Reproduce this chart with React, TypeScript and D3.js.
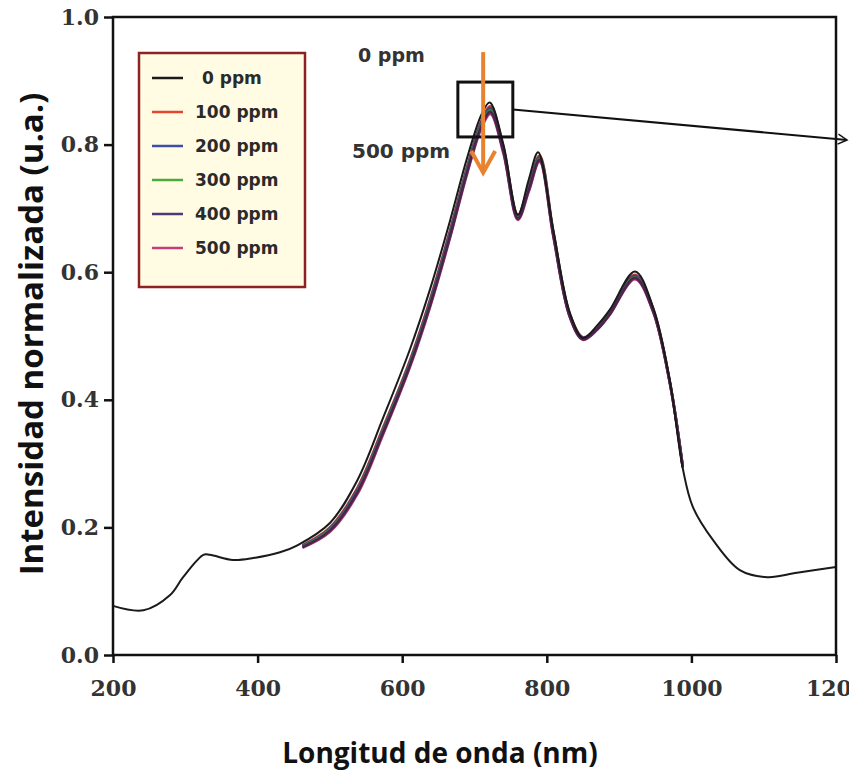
import React, { useRef, useEffect } from 'react';
import * as d3 from 'd3';

// 0 ppm spectrum, full range
const wlFull = [200, 242, 279, 297, 325, 334, 366, 394, 431, 455, 500, 538, 573, 611, 639, 666, 690, 710, 721, 740, 760, 775, 788, 809, 832, 850, 870, 887, 922, 947, 970, 988, 1002, 1030, 1067, 1105, 1146, 1200];
const ppm0 = [0.077, 0.070, 0.094, 0.122, 0.157, 0.157, 0.149, 0.152, 0.161, 0.172, 0.207, 0.274, 0.370, 0.480, 0.575, 0.680, 0.780, 0.848, 0.866, 0.800, 0.690, 0.745, 0.788, 0.666, 0.536, 0.497, 0.517, 0.541, 0.601, 0.545, 0.431, 0.293, 0.232, 0.180, 0.133, 0.122, 0.129, 0.138];

// doped samples, measured range only
const wlDoped = [462, 500, 538, 573, 611, 639, 666, 690, 710, 722, 740, 760, 775, 790, 809, 832, 850, 870, 887, 922, 947, 970, 988];
const ppm100 = [0.172, 0.200, 0.262, 0.355, 0.463, 0.559, 0.665, 0.766, 0.838, 0.860, 0.796, 0.690, 0.736, 0.783, 0.664, 0.534, 0.498, 0.514, 0.538, 0.596, 0.543, 0.430, 0.296];
const ppm200 = [0.171, 0.198, 0.259, 0.352, 0.460, 0.556, 0.662, 0.764, 0.836, 0.857, 0.793, 0.688, 0.733, 0.780, 0.662, 0.532, 0.497, 0.513, 0.536, 0.594, 0.541, 0.429, 0.296];
const ppm300 = [0.170, 0.197, 0.257, 0.350, 0.458, 0.553, 0.659, 0.761, 0.833, 0.854, 0.791, 0.686, 0.731, 0.778, 0.660, 0.531, 0.496, 0.512, 0.535, 0.592, 0.540, 0.428, 0.295];
const ppm400 = [0.169, 0.195, 0.255, 0.347, 0.455, 0.550, 0.656, 0.758, 0.830, 0.851, 0.789, 0.684, 0.729, 0.776, 0.658, 0.530, 0.495, 0.511, 0.534, 0.591, 0.539, 0.428, 0.294];
const ppm500 = [0.168, 0.193, 0.252, 0.344, 0.452, 0.547, 0.653, 0.755, 0.827, 0.848, 0.786, 0.682, 0.726, 0.773, 0.656, 0.529, 0.494, 0.510, 0.533, 0.589, 0.538, 0.427, 0.294];

const seriesNames = ['0 ppm', '100 ppm', '200 ppm', '300 ppm', '400 ppm', '500 ppm'];
const seriesColors = ['#1a1a1a', '#e2462c', '#3b4fa6', '#4ea83c', '#4a3a78', '#c23f7c'];
// colours the doped curves take in the plot (darker, they overlap)
const plotColors = ['#b83a3a', '#3b3f8a', '#3f7a3a', '#4a2450', '#a8346e'];

const xTicks = [200, 400, 600, 800, 1000, 1200];
const yTicks = [0.0, 0.2, 0.4, 0.6, 0.8, 1.0];

const W = 849, H = 776;

const App = () => {
    const xAxisRef = useRef(null);
    const yAxisRef = useRef(null);

    const x = d3.scaleLinear().domain([200, 1200]).range([113, 836]);
    const y = d3.scaleLinear().domain([0, 1]).range([655, 17]);

    const line = d3.line<[number, number]>()
        .x(d => x(d[0]))
        .y(d => y(d[1]))
        .curve(d3.curveCatmullRom.alpha(0.5));

    const doped = [ppm100, ppm200, ppm300, ppm400, ppm500];
    const drawOrder = [0, 1, 2, 4, 3];

    useEffect(() => {
        const xAxis = d3.axisBottom(x).tickValues(xTicks).tickSize(8).tickPadding(17).tickFormat(d3.format('d'));
        const yAxis = d3.axisLeft(y).tickValues(yTicks).tickSize(9).tickPadding(5).tickFormat(d3.format('.1f'));
        const gx = d3.select(xAxisRef.current).call(xAxis);
        const gy = d3.select(yAxisRef.current).call(yAxis);
        [gx, gy].forEach(g => {
            g.select('.domain').remove();
            g.selectAll('line').attr('stroke', '#111').attr('stroke-width', 2.5);
            g.selectAll('text')
                .attr('fill', '#333')
                .style('font-family', '"DejaVu Serif", serif')
                .style('font-weight', 'bold')
                .style('font-size', '22px');
        });
    // eslint-disable-next-line
    }, []);

    // legend position
    const lg = { x: 139, y: 53, w: 166, h: 234 };

    return (
        <svg width={W} height={H} style={{ position: 'absolute', left: 0, top: 0, background: '#fff' }}>
            <defs>
                <marker id="open" viewBox="0 0 12 12" refX="10" refY="6" markerWidth="12" markerHeight="12" orient="auto" markerUnits="userSpaceOnUse">
                    <path d="M1,1 L10,6 L1,11" fill="none" stroke="#111" strokeWidth="1.5" />
                </marker>
            </defs>

            {/* doped curves */}
            {drawOrder.map(i => (
                <path key={i} d={line(wlDoped.map((w, j) => [w, doped[i][j]]) as [number, number][]) || ''}
                    fill="none" stroke={plotColors[i]} strokeWidth={2.6} />
            ))}
            <path d={line(wlFull.map((w, j) => [w, ppm0[j]]) as [number, number][]) || ''}
                fill="none" stroke={seriesColors[0]} strokeWidth={2} />

            {/* frame */}
            <rect x={x(200)} y={y(1)} width={x(1200) - x(200)} height={y(0) - y(1)} fill="none" stroke="#111" strokeWidth={2.5} />
            <g ref={xAxisRef} transform={`translate(0,${y(0)})`} />
            <g ref={yAxisRef} transform={`translate(${x(200)},0)`} />

            {/* zoom box + pointer */}
            <rect x={x(677)} y={y(0.898)} width={x(753) - x(677)} height={y(0.812) - y(0.898)} fill="none" stroke="#111" strokeWidth={3} />
            <line x1={x(753)} y1={y(0.855)} x2={847} y2={140} stroke="#111" strokeWidth={2.2} markerEnd="url(#open)" />

            {/* orange arrow */}
            <line x1={x(712)} y1={y(0.945)} x2={x(712)} y2={y(0.758)} stroke="#e8822f" strokeWidth={4} />
            <polyline points={`${x(712) - 12},${y(0.79)} ${x(712)},${y(0.756)} ${x(712) + 12},${y(0.79)}`} fill="none" stroke="#e8822f" strokeWidth={4} />

            <text x={358} y={62} fontFamily='"DejaVu Sans", sans-serif' fontWeight="bold" fontSize={19} fill="#333">0 ppm</text>
            <text x={352} y={158} fontFamily='"DejaVu Sans", sans-serif' fontWeight="bold" fontSize={20} fill="#333">500 ppm</text>

            {/* legend */}
            <rect x={lg.x} y={lg.y} width={lg.w} height={lg.h} fill="#fffce3" stroke="#8e2222" strokeWidth={2.5} />
            {seriesNames.map((name, i) => (
                <g key={name} transform={`translate(0,${78 + i * 34})`}>
                    <line x1={152} x2={183} y1={0} y2={0} stroke={seriesColors[i]} strokeWidth={2.5} />
                    <text x={name === '0 ppm' ? 202 : 195} y={6} fontFamily='"DejaVu Sans", sans-serif' fontWeight="bold" fontSize={17} fill="#2a2a2a">{name}</text>
                </g>
            ))}

            {/* axis titles */}
            <text x={440} y={763} textAnchor="middle" fontFamily='"Open Sans", sans-serif' fontWeight="bold" fontSize={28} fill="#111">Longitud de onda (nm)</text>
            <text transform="translate(43,334) rotate(-90)" textAnchor="middle" fontFamily='"Open Sans", sans-serif' fontWeight="bold" fontSize={33} fill="#111">Intensidad normalizada (u.a.)</text>
        </svg>
    );
};

export default App;
